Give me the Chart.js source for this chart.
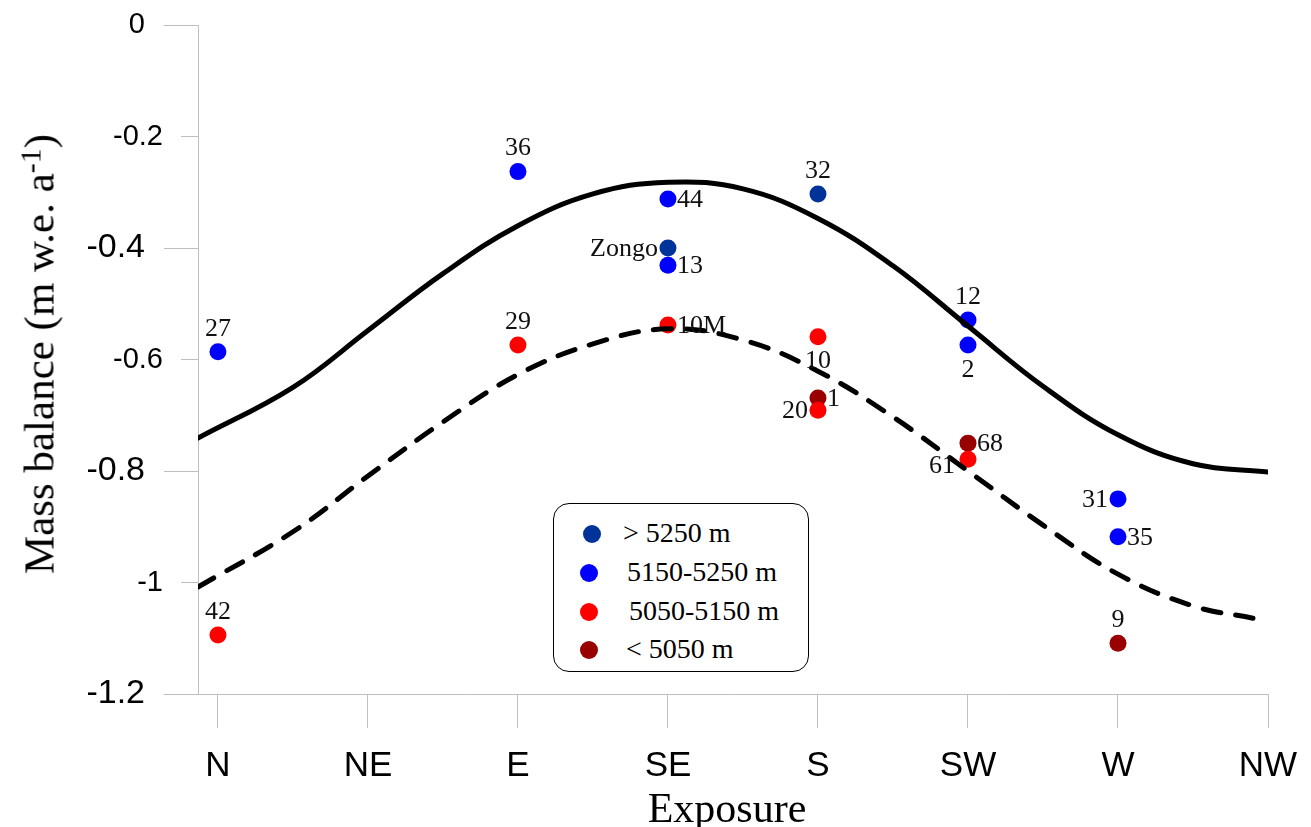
<!DOCTYPE html>
<html>
<head>
<meta charset="utf-8">
<script src="https://cdn.jsdelivr.net/npm/chart.js@4.4.0/dist/chart.umd.min.js"></script>
<style>
html,body{margin:0;padding:0;background:#fff;}
#wrap{position:relative;width:1311px;height:827px;overflow:hidden;background:#fff;}
#chart{position:absolute;left:0;top:0;}
.ytitle{position:absolute;left:38.5px;top:354px;transform:translate(-50%,-50%) rotate(-90deg);font-family:'Liberation Serif','Times New Roman',serif;font-size:43px;line-height:1;white-space:nowrap;color:#000;}
.ytitle .sup{position:relative;top:-0.42em;font-size:0.7em;}
.xtitle{position:absolute;left:727px;top:787px;transform:translateX(-50%);font-family:'Liberation Serif','Times New Roman',serif;font-size:42px;line-height:1;white-space:nowrap;color:#000;}
#legendBox{position:absolute;left:553px;top:503px;width:256px;height:169px;box-sizing:border-box;border:1.6px solid #000;border-radius:16px;background:#fff;}
.ldot{position:absolute;width:18px;height:18px;border-radius:50%;}
.ltext{position:absolute;font-family:'Liberation Serif','Times New Roman',serif;font-size:28px;line-height:28px;white-space:nowrap;color:#000;}
</style>
</head>
<body>
<div id="wrap">
  <canvas id="chart" width="1311" height="827"></canvas>
  <div class="ytitle">Mass balance (m w.e. a<span class="sup">-1</span>)</div>
  <div class="xtitle">Exposure</div>
  <div id="legendBox"></div>
</div>
<script>
// ---- categories & tick labels ----
const categories = ['N', 'NE', 'E', 'SE', 'S', 'SW', 'W', 'NW'];
const yMajorTicks = [0, -0.4, -0.8, -1.2];
const yMajorLabels = ['0', '-0.4', '-0.8', '-1.2'];
const yMinorTicks = [-0.2, -0.6, -1.0];
const yMinorLabels = ['-0.2', '-0.6', '-1'];

// ---- series (elevation classes) ----
const seriesNames = ['> 5250 m', '5150-5250 m', '5050-5150 m', '< 5050 m'];
const seriesColors = ['#003399', '#0000ff', '#ff0000', '#990000'];

const darkBlueCat = ['SE', 'S'];
const darkBlueVal = [-0.400, -0.303];
const darkBlueLbl = ['Zongo', '32'];

const blueCat = ['N', 'E', 'SE', 'SE', 'SW', 'SW', 'W', 'W'];
const blueVal = [-0.586, -0.263, -0.312, -0.431, -0.529, -0.574, -0.850, -0.918];
const blueLbl = ['27', '36', '44', '13', '12', '2', '31', '35'];

const redCat = ['N', 'E', 'SE', 'S', 'S', 'SW'];
const redVal = [-1.094, -0.574, -0.538, -0.559, -0.691, -0.779];
const redLbl = ['42', '29', '10M', '10', '20', '61'];

const darkRedCat = ['S', 'SW', 'W'];
const darkRedVal = [-0.669, -0.750, -1.109];
const darkRedLbl = ['1', '68', '9'];

// ---- fitted curves ----
const solidX = [-0.133, 0.5, 1, 1.5, 2, 2.5, 3, 3.5, 4, 4.5, 5, 5.5, 6, 6.5, 7.01];
const solidY = [-0.741, -0.650, -0.548, -0.446, -0.360, -0.303, -0.282, -0.294, -0.347, -0.432, -0.540, -0.648, -0.735, -0.787, -0.802];
const dashX = [-0.133, 0.5, 1, 1.5, 2, 2.5, 3, 3.5, 4, 4.5, 5, 5.5, 6, 6.5, 6.9];
const dashY = [-1.008, -0.909, -0.809, -0.712, -0.627, -0.572, -0.545, -0.565, -0.621, -0.703, -0.800, -0.897, -0.985, -1.042, -1.064];

// ---- label placement (style, not data) ----
const labelPlacement = {
  darkBlue: ['left', 'top'],
  blue: ['top', 'top', 'right', 'right', 'top', 'bottom', 'left', 'right'],
  red: ['top', 'top', 'right', 'bottom', 'left', 'leftbelow'],
  darkRed: ['right', 'right', 'top']
};

const xMin = -0.133, xMax = 7;
const pts = (cats, vals) => cats.map((c, i) => ({ x: categories.indexOf(c), y: vals[i] }));
const line = (xs, ys) => xs.map((x, i) => ({ x: x, y: ys[i] }));

const pointLabelPlugin = {
  id: 'pointLabels',
  afterLayout(chart) {
    // let the inner (minor) axis draw its labels over the outer axis' area
    const ym = chart.scales.yMinor;
    if (ym) { ym.left = 0; }
  },
  afterDatasetsDraw(chart) {
    const ctx = chart.ctx;
    ctx.save();
    ctx.font = '26px "Liberation Serif", "Times New Roman", serif';
    ctx.fillStyle = '#111';
    ctx.textBaseline = 'middle';
    chart.data.datasets.forEach((ds, di) => {
      if (!ds.pointLabels) return;
      const meta = chart.getDatasetMeta(di);
      meta.data.forEach((el, i) => {
        const txt = ds.pointLabels[i];
        const pos = ds.labelPos[i];
        let x = el.x, y = el.y, align = 'center';
        if (pos === 'top') { y -= 23; }
        else if (pos === 'bottom') { y += 25; }
        else if (pos === 'right') { x += 9; y += 1; align = 'left'; }
        else if (pos === 'left') { x -= 10; y += 1; align = 'right'; }
        else if (pos === 'leftbelow') { x -= 13; y += 7; align = 'right'; }
        ctx.textAlign = align;
        ctx.fillText(txt, x, y);
      });
    });
    ctx.restore();
  }
};

const scatterDs = (name, color, cats, vals, lbls, place, order) => ({
  type: 'scatter', label: name, data: pts(cats, vals),
  backgroundColor: color, borderWidth: 0, pointRadius: 8.5, pointHoverRadius: 8.5,
  pointLabels: lbls, labelPos: place, order: order
});

new Chart(document.getElementById('chart'), {
  type: 'scatter',
  data: {
    datasets: [
      { type: 'line', label: 'fit high', data: line(solidX, solidY), borderColor: '#000', borderWidth: 5,
        pointRadius: 0, fill: false, tension: 0.4, order: 0, borderCapStyle: 'round' },
      { type: 'line', label: 'fit low', data: line(dashX, dashY), borderColor: '#000', borderWidth: 5,
        borderDash: [18, 15], borderCapStyle: 'round', pointRadius: 0, fill: false,
        tension: 0.4, order: 0 },
      scatterDs(seriesNames[1], seriesColors[1], blueCat, blueVal, blueLbl, labelPlacement.blue, 1),
      scatterDs(seriesNames[2], seriesColors[2], redCat, redVal, redLbl, labelPlacement.red, 1),
      scatterDs(seriesNames[0], seriesColors[0], darkBlueCat, darkBlueVal, darkBlueLbl, labelPlacement.darkBlue, 2),
      scatterDs(seriesNames[3], seriesColors[3], darkRedCat, darkRedVal, darkRedLbl, labelPlacement.darkRed, 2)
    ]
  },
  options: {
    responsive: false,
    animation: false,
    devicePixelRatio: 1,
    layout: { padding: { left: 0, right: 43, top: 25, bottom: 0 } },
    plugins: { legend: { display: false }, tooltip: { enabled: false } },
    scales: {
      x: {
        type: 'linear', min: xMin, max: xMax,
        afterBuildTicks: s => { s.ticks = categories.map((c, i) => ({ value: i })); },
        ticks: {
          callback: v => categories[v] !== undefined ? categories[v] : '',
          font: { family: '"Liberation Sans", Arial, sans-serif', size: 35 },
          color: '#000', padding: 17, maxRotation: 0, autoSkip: false
        },
        grid: { drawOnChartArea: false, drawTicks: true, tickLength: 34, color: '#bfbfbf', lineWidth: 1 },
        border: { display: true, color: '#bfbfbf', width: 1 },
        afterFit: s => { s.height = 133; s.paddingLeft = 0; s.paddingRight = 0; }
      },
      y: {
        type: 'linear', position: 'left', weight: 1, min: -1.2, max: 0,
        afterBuildTicks: s => { s.ticks = yMajorTicks.map(v => ({ value: v })); },
        ticks: {
          callback: v => { const k = yMajorTicks.findIndex(t => Math.abs(t - v) < 1e-9); return k >= 0 ? yMajorLabels[k] : ''; },
          font: ctx => ({ family: '"Liberation Sans", Arial, sans-serif', size: (ctx.tick && Math.abs(ctx.tick.value) < 1e-9) ? 29 : 34 }),
          color: '#000', padding: 19, autoSkip: false
        },
        grid: { drawOnChartArea: false, drawTicks: true, tickLength: 34, color: '#bfbfbf', lineWidth: 1 },
        border: { display: true, color: '#bfbfbf', width: 1 },
        afterFit: s => { s.width = 198; s.paddingTop = 0; s.paddingBottom = 0; }
      },
      yMinor: {
        type: 'linear', axis: 'y', position: 'left', weight: 0, min: -1.2, max: 0,
        afterBuildTicks: s => { s.ticks = yMinorTicks.map(v => ({ value: v })); },
        ticks: {
          callback: v => { const k = yMinorTicks.findIndex(t => Math.abs(t - v) < 1e-9); return k >= 0 ? yMinorLabels[k] : ''; },
          font: { family: '"Liberation Sans", Arial, sans-serif', size: 29 },
          color: '#000', padding: 18, autoSkip: false
        },
        grid: { drawOnChartArea: false, drawTicks: true, tickLength: 17, color: '#bfbfbf', lineWidth: 1 },
        border: { display: false },
        afterFit: s => { s.width = 0; s.paddingTop = 0; s.paddingBottom = 0; }
      }
    }
  },
  plugins: [pointLabelPlugin]
});

// ---- legend (HTML) ----
const legendDotPos = [[592, 534], [589, 573], [589, 612], [589, 650]];
const legendTextX = [623, 627, 629, 626];
const wrap = document.getElementById('wrap');
seriesNames.forEach((name, i) => {
  const d = document.createElement('div');
  d.className = 'ldot';
  d.style.background = seriesColors[i];
  d.style.left = (legendDotPos[i][0] - 9) + 'px';
  d.style.top = (legendDotPos[i][1] - 9) + 'px';
  wrap.appendChild(d);
  const t = document.createElement('div');
  t.className = 'ltext';
  t.textContent = name;
  t.style.left = legendTextX[i] + 'px';
  t.style.top = (legendDotPos[i][1] - 15) + 'px';
  wrap.appendChild(t);
});
</script>
</body>
</html>
